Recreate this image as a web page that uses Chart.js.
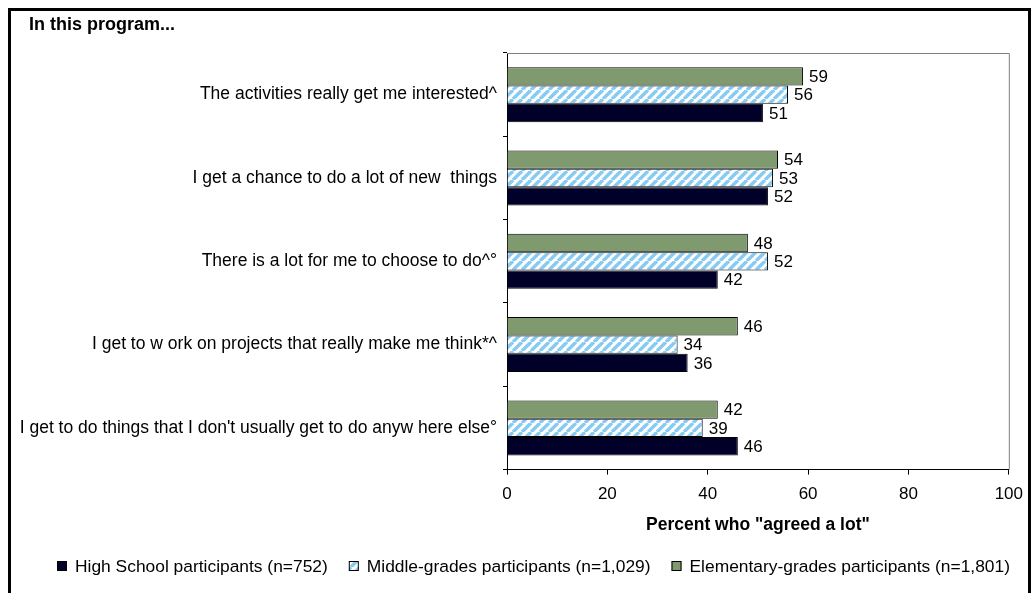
<!DOCTYPE html>
<html>
<head>
<meta charset="utf-8">
<script src="https://cdn.jsdelivr.net/npm/chart.js@4.4.0/dist/chart.umd.min.js"></script>
<style>
  html, body { margin: 0; padding: 0; background: #fff; overflow: hidden; }
  #wrap { position: relative; width: 1033px; height: 593px; }
  #frame { position: absolute; left: 8px; top: 8px; width: 1023px; height: 640px; box-sizing: border-box; border: 3px solid #000; pointer-events: none; }
  canvas { position: absolute; left: 0; top: 0; }
</style>
</head>
<body>
<div id="wrap">
  <canvas id="chart" width="1033" height="593"></canvas>
  <div id="frame"></div>
</div>
<script>
// data
const categories = [
  'The activities really get me interested^',
  'I get a chance to do a lot of new  things',
  'There is a lot for me to choose to do^°',
  'I get to w ork on projects that really make me think*^',
  "I get to do things that I don't usually get to do anyw here else°"
];
const highSchool = [51, 52, 42, 36, 46];
const middleGrades = [56, 53, 52, 34, 39];
const elementary = [59, 54, 48, 46, 42];
const xTicks = [0, 20, 40, 60, 80, 100];

const FONT = '"Liberation Sans", Arial, sans-serif';

// light blue diagonal hatch for the middle-grades bars
function makeHatch() {
  const s = 9;
  const pc = document.createElement('canvas');
  pc.width = s; pc.height = s;
  const p = pc.getContext('2d');
  p.fillStyle = '#fff';
  p.fillRect(0, 0, s, s);
  p.strokeStyle = '#87cbf2';
  p.lineWidth = 3.4;
  p.beginPath();
  for (let k = -1; k <= 1; k++) {
    p.moveTo(k * s, s);
    p.lineTo(k * s + s, 0);
  }
  p.stroke();
  return p.createPattern(pc, 'repeat');
}
const hatch = makeHatch();

// numbers at the end of each bar
const valueLabels = {
  id: 'valueLabels',
  afterDatasetsDraw(chart) {
    const ctx = chart.ctx;
    ctx.save();
    ctx.font = '17px ' + FONT;
    ctx.fillStyle = '#000';
    ctx.textAlign = 'left';
    ctx.textBaseline = 'middle';
    chart.data.datasets.forEach((ds, i) => {
      chart.getDatasetMeta(i).data.forEach((bar, j) => {
        ctx.fillText(ds.data[j], bar.x + 6, bar.y + 1);
      });
    });
    ctx.restore();
  }
};

// grey top / right edge of the plot area
const plotFrame = {
  id: 'plotFrame',
  beforeDatasetsDraw(chart) {
    const { ctx, chartArea: a } = chart;
    ctx.save();
    ctx.strokeStyle = '#808080';
    ctx.lineWidth = 1;
    ctx.beginPath();
    ctx.moveTo(a.left, a.top + 0.5);
    ctx.lineTo(a.right + 0.5, a.top + 0.5);
    ctx.lineTo(a.right + 0.5, a.bottom);
    ctx.stroke();
    ctx.restore();
  }
};

// heading and legend row
const heading = {
  id: 'heading',
  afterDraw(chart) {
    const ctx = chart.ctx;
    ctx.save();
    ctx.fillStyle = '#000';
    ctx.font = 'bold 18px ' + FONT;
    ctx.textBaseline = 'middle';
    ctx.textAlign = 'left';
    ctx.fillText('In this program...', 29, 25);

    ctx.font = '17.4px ' + FONT;
    const items = chart.data.datasets.slice().reverse();
    let x = 57;
    const y = 566;
    items.forEach(ds => {
      ctx.fillStyle = ds.backgroundColor;
      ctx.fillRect(x, y - 5, 10, 10);
      ctx.strokeStyle = '#000';
      ctx.lineWidth = 1;
      ctx.strokeRect(x + 0.5, y - 4.5, 9, 9);
      ctx.fillStyle = '#000';
      ctx.fillText(ds.label, x + 18, y + 1);
      x += 18 + ctx.measureText(ds.label).width + 21;
    });
    ctx.restore();
  }
};

new Chart(document.getElementById('chart'), {
  type: 'bar',
  data: {
    labels: categories,
    datasets: [
      { label: 'Elementary-grades participants (n=1,801)', data: elementary, backgroundColor: '#809A6F' },
      { label: 'Middle-grades participants (n=1,029)', data: middleGrades, backgroundColor: hatch },
      { label: 'High School participants (n=752)', data: highSchool, backgroundColor: '#000028' }
    ]
  },
  options: {
    indexAxis: 'y',
    responsive: false,
    animation: false,
    datasets: {
      bar: { borderColor: '#000', borderWidth: 1, categoryPercentage: 0.66, barPercentage: 1 }
    },
    layout: { padding: { top: 53, left: 0, right: 22, bottom: 53 } },
    plugins: { legend: { display: false }, tooltip: { enabled: false } },
    scales: {
      x: {
        min: 0,
        max: 100,
        afterBuildTicks(s) { s.ticks = xTicks.map(v => ({ value: v })); },
        ticks: { padding: 10, color: '#000', font: { family: FONT, size: 17 } },
        grid: { drawOnChartArea: false, tickLength: 5, color: '#000' },
        border: { color: '#000' },
        title: {
          display: true,
          text: 'Percent who "agreed a lot"',
          color: '#000',
          font: { family: FONT, size: 17.5, weight: 'bold' },
          padding: { top: 0, bottom: 4 }
        }
      },
      y: {
        afterFit(s) { s.width = 507; },
        ticks: { padding: 6, color: '#000', font: { family: FONT, size: 17.5 } },
        grid: { drawOnChartArea: false, tickLength: 4, color: '#000', offset: true },
        border: { color: '#000' }
      }
    }
  },
  plugins: [plotFrame, valueLabels, heading]
});
</script>
</body>
</html>
